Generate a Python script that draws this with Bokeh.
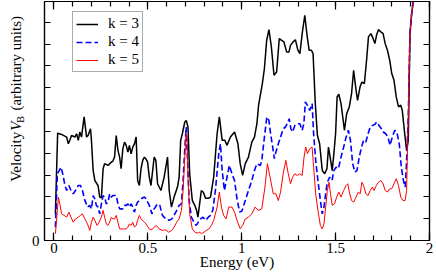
from math import pi
from bokeh.plotting import figure
from bokeh.layouts import row
from bokeh.models import Range1d, LinearAxis, FixedTicker, Legend, LegendItem
from bokeh.core.properties import value
from bokeh.embed import file_html
from bokeh.resources import INLINE

# ---------------- data ----------------
energy_k3 = [0.008, 0.020, 0.041, 0.068, 0.077, 0.085, 0.094, 0.112, 0.121, 0.130, 0.138, 0.147, 0.161, 0.174,
             0.182, 0.195, 0.200, 0.209, 0.218, 0.235, 0.244, 0.253, 0.262, 0.270, 0.288, 0.306, 0.314, 0.323,
             0.332, 0.341, 0.350, 0.358, 0.367, 0.376, 0.385, 0.394, 0.402, 0.411, 0.420, 0.429, 0.438, 0.446,
             0.455, 0.464, 0.473, 0.482, 0.490, 0.499, 0.508, 0.517, 0.534, 0.543, 0.552, 0.570, 0.587, 0.596,
             0.605, 0.614, 0.626, 0.640, 0.658, 0.667, 0.675, 0.684, 0.697, 0.705, 0.714, 0.723, 0.737, 0.750,
             0.760, 0.767, 0.776, 0.785, 0.795, 0.808, 0.822, 0.834, 0.851, 0.869, 0.881, 0.896, 0.910, 0.922,
             0.940, 0.962, 0.980, 0.992, 1.005, 1.019, 1.036, 1.054, 1.068, 1.081, 1.090, 1.110, 1.121, 1.133,
             1.145, 1.158, 1.172, 1.186, 1.200, 1.213, 1.225, 1.239, 1.252, 1.260, 1.274, 1.286, 1.299, 1.310,
             1.322, 1.336, 1.348, 1.359, 1.371, 1.380, 1.392, 1.403, 1.415, 1.429, 1.442, 1.454, 1.462, 1.471,
             1.482, 1.490, 1.500, 1.508, 1.517, 1.529, 1.547, 1.559, 1.573, 1.585, 1.596, 1.609, 1.617, 1.630,
             1.640, 1.653, 1.665, 1.675, 1.688, 1.700, 1.709, 1.718, 1.728, 1.741, 1.753, 1.764, 1.776, 1.788,
             1.799, 1.811, 1.823, 1.835, 1.847, 1.855, 1.868, 1.878, 1.887, 1.896, 1.905, 1.914, 1.925]
vel_k3 = [1.20, 4.92, 4.86, 4.74, 4.43, 4.59, 4.81, 4.74, 4.89, 4.59, 4.97, 4.74, 5.66, 4.74,
          4.81, 5.12, 4.59, 3.21, 2.75, 2.52, 1.99, 1.96, 3.29, 3.52, 3.44, 3.59, 3.64, 3.82,
          4.81, 4.13, 3.82, 3.29, 4.20, 4.51, 4.36, 4.05, 4.36, 3.97, 4.28, 4.43, 4.74, 2.75,
          2.52, 3.29, 3.67, 3.82, 3.74, 3.59, 2.90, 2.52, 3.82, 3.67, 2.60, 2.29, 2.90, 3.36,
          3.82, 2.29, 1.53, 1.99, 2.45, 2.90, 4.59, 4.89, 5.43, 5.50, 5.20, 3.06, 1.84, 1.61,
          1.38, 1.07, 1.68, 2.29, 2.22, 1.93, 1.93, 1.99, 2.91, 4.89, 5.66, 4.59, 4.59, 4.36,
          4.74, 4.97, 4.43, 3.52, 2.98, 3.52, 3.82, 4.51, 4.74, 5.35, 6.20, 7.19, 7.88, 9.17,
          9.66, 8.87, 7.57, 7.72, 9.25, 9.17, 9.10, 8.64, 8.64, 8.94, 9.10, 9.20, 8.72, 8.56,
          9.48, 10.32, 9.40, 8.72, 8.72, 8.56, 6.27, 4.82, 4.43, 3.21, 3.06, 3.29, 4.28, 3.82,
          3.20, 3.90, 4.89, 6.58, 6.70, 6.27, 5.05, 5.81, 6.12, 6.73, 7.80, 6.88, 6.42, 7.03,
          7.26, 7.19, 8.26, 9.33, 9.48, 9.25, 9.02, 9.40, 9.66, 9.56, 9.48, 9.02, 8.72, 8.26,
          7.65, 7.34, 6.58, 6.12, 6.20, 5.96, 4.89, 4.13, 4.59, 9.48, 10.40, 11.00, 12.50]

energy_k4 = [0.008, 0.0185, 0.029, 0.038, 0.047, 0.059, 0.068, 0.080, 0.091, 0.103, 0.115, 0.130, 0.142, 0.152,
             0.165, 0.179, 0.191, 0.200, 0.209, 0.218, 0.226, 0.235, 0.244, 0.253, 0.262, 0.270, 0.279, 0.288,
             0.297, 0.306, 0.314, 0.323, 0.332, 0.341, 0.350, 0.358, 0.367, 0.376, 0.385, 0.394, 0.402, 0.411,
             0.420, 0.429, 0.438, 0.446, 0.464, 0.482, 0.490, 0.508, 0.522, 0.534, 0.552, 0.564, 0.578, 0.596,
             0.614, 0.628, 0.640, 0.654, 0.667, 0.679, 0.688, 0.697, 0.704, 0.711, 0.720, 0.732, 0.746, 0.758,
             0.769, 0.781, 0.794, 0.808, 0.822, 0.834, 0.846, 0.860, 0.878, 0.887, 0.896, 0.908, 0.922, 0.934,
             0.948, 0.962, 0.975, 0.989, 1.001, 1.019, 1.036, 1.054, 1.068, 1.081, 1.099, 1.107, 1.121, 1.134,
             1.145, 1.154, 1.165, 1.174, 1.182, 1.195, 1.207, 1.221, 1.233, 1.242, 1.253, 1.262, 1.271, 1.283,
             1.295, 1.310, 1.322, 1.331, 1.339, 1.350, 1.362, 1.375, 1.383, 1.394, 1.406, 1.419, 1.429, 1.438,
             1.447, 1.456, 1.468, 1.481, 1.491, 1.503, 1.515, 1.529, 1.543, 1.556, 1.568, 1.579, 1.591, 1.603,
             1.614, 1.626, 1.638, 1.649, 1.661, 1.673, 1.684, 1.696, 1.709, 1.719, 1.731, 1.744, 1.754, 1.767,
             1.779, 1.790, 1.802, 1.815, 1.826, 1.839, 1.850, 1.861, 1.871, 1.878, 1.887, 1.896, 1.905, 1.914,
             1.925]
vel_k4 = [0.61, 3.06, 3.21, 3.36, 3.06, 2.52, 2.29, 2.52, 2.29, 2.14, 2.29, 2.52, 2.52, 2.29,
          1.84, 1.53, 1.61, 1.45, 2.06, 1.91, 1.61, 1.53, 1.22, 1.68, 2.06, 1.99, 1.68, 1.76,
          2.14, 1.99, 2.06, 2.06, 2.06, 1.68, 1.45, 1.45, 1.45, 1.61, 1.61, 1.68, 1.53, 1.68,
          1.53, 1.30, 1.61, 1.76, 1.91, 1.99, 1.91, 1.61, 1.22, 1.45, 1.68, 1.61, 1.15, 0.99,
          0.92, 0.99, 1.15, 1.38, 1.61, 1.68, 2.75, 4.20, 5.20, 3.82, 1.84, 1.07, 0.84, 0.69,
          0.84, 0.99, 1.07, 0.92, 1.07, 1.15, 1.38, 2.29, 3.98, 4.43, 3.21, 2.29, 2.91, 3.44,
          3.06, 2.75, 1.91, 1.30, 1.35, 1.83, 2.29, 2.75, 3.21, 3.52, 3.44, 3.67, 4.74, 5.66,
          5.50, 4.89, 4.28, 3.75, 4.05, 4.43, 4.74, 5.12, 5.20, 5.35, 5.58, 5.12, 4.97, 5.27,
          5.35, 5.35, 5.05, 5.35, 6.35, 6.19, 5.96, 6.27, 4.89, 3.67, 2.75, 1.83, 1.22, 1.53,
          2.14, 2.67, 2.90, 2.75, 3.21, 3.36, 3.29, 3.82, 4.28, 4.74, 5.05, 4.59, 3.52, 3.13,
          3.21, 3.82, 4.28, 4.59, 4.51, 4.89, 5.20, 5.27, 5.32, 5.43, 5.27, 5.12, 4.97, 4.89,
          4.74, 4.36, 4.74, 5.05, 4.97, 4.43, 3.36, 2.75, 2.45, 3.67, 5.66, 9.48, 10.40, 11.00,
          12.50]

energy_k5 = [0.008, 0.0185, 0.024, 0.033, 0.041, 0.054, 0.068, 0.080, 0.091, 0.103, 0.115, 0.130, 0.142, 0.152,
             0.165, 0.179, 0.191, 0.200, 0.209, 0.218, 0.230, 0.241, 0.253, 0.262, 0.270, 0.279, 0.288, 0.297,
             0.306, 0.314, 0.323, 0.332, 0.341, 0.350, 0.367, 0.385, 0.394, 0.402, 0.411, 0.420, 0.429, 0.438,
             0.446, 0.455, 0.464, 0.482, 0.490, 0.508, 0.522, 0.534, 0.546, 0.561, 0.578, 0.596, 0.610, 0.628,
             0.640, 0.654, 0.667, 0.679, 0.688, 0.697, 0.704, 0.709, 0.714, 0.723, 0.737, 0.751, 0.764, 0.776,
             0.786, 0.799, 0.811, 0.825, 0.839, 0.851, 0.869, 0.881, 0.892, 0.904, 0.917, 0.931, 0.948, 0.962,
             0.975, 0.992, 1.005, 1.019, 1.036, 1.054, 1.071, 1.089, 1.107, 1.124, 1.137, 1.151, 1.168, 1.182,
             1.195, 1.207, 1.221, 1.235, 1.248, 1.260, 1.271, 1.283, 1.295, 1.310, 1.322, 1.332, 1.341, 1.350,
             1.362, 1.375, 1.383, 1.394, 1.406, 1.419, 1.429, 1.438, 1.447, 1.456, 1.465, 1.473, 1.482, 1.494,
             1.506, 1.517, 1.529, 1.543, 1.556, 1.565, 1.573, 1.585, 1.596, 1.609, 1.621, 1.631, 1.640, 1.649,
             1.661, 1.673, 1.684, 1.696, 1.705, 1.717, 1.728, 1.741, 1.753, 1.764, 1.776, 1.788, 1.799, 1.811,
             1.823, 1.835, 1.847, 1.859, 1.870, 1.878, 1.887, 1.896, 1.905, 1.914, 1.925]
vel_k5 = [0.31, 1.38, 1.99, 1.61, 1.22, 1.15, 1.07, 1.30, 1.07, 0.84, 0.99, 1.07, 1.15, 1.22,
          0.99, 0.76, 0.46, 0.84, 1.07, 0.92, 0.69, 0.84, 1.07, 1.38, 1.07, 0.76, 0.69, 0.84,
          1.07, 0.99, 0.99, 1.15, 0.84, 0.53, 0.53, 0.53, 0.61, 0.76, 0.69, 0.84, 0.61, 0.69,
          0.92, 1.15, 0.99, 0.84, 0.76, 0.53, 0.49, 0.61, 0.69, 0.53, 0.46, 0.49, 0.38, 0.46,
          0.61, 0.84, 0.99, 1.38, 2.29, 3.82, 4.89, 4.74, 2.90, 1.22, 0.53, 0.38, 0.34, 0.38,
          0.31, 0.38, 0.46, 0.53, 0.69, 0.92, 1.53, 2.22, 1.53, 1.15, 0.99, 1.53, 1.53, 1.30,
          0.92, 0.54, 0.69, 0.99, 1.07, 1.22, 1.53, 1.38, 1.45, 2.45, 3.52, 2.91, 2.14, 2.14,
          1.83, 2.22, 3.06, 3.67, 3.06, 2.60, 2.90, 3.06, 2.98, 3.06, 2.98, 3.82, 4.28, 3.98,
          4.20, 4.28, 3.36, 2.14, 1.38, 0.69, 0.53, 0.76, 1.53, 2.29, 2.67, 2.14, 1.61, 1.68,
          1.99, 2.22, 1.99, 2.29, 2.52, 2.60, 2.22, 1.83, 1.76, 1.99, 2.22, 2.14, 2.67, 2.52,
          2.14, 2.06, 2.29, 2.45, 2.29, 2.52, 2.67, 2.75, 2.60, 2.29, 2.22, 2.37, 2.37, 2.60,
          2.83, 2.52, 1.99, 1.83, 1.83, 2.29, 5.66, 9.48, 10.40, 11.00, 12.50]

series_labels = ["k = 3", "k = 4", "k = 5"]
x_tick_values = [0, 0.5, 1, 1.5, 2]
x_tick_labels = ["0", "0.5", "1", "1.5", "2"]
x_minor_values = [round(0.1 * i, 1) for i in range(21)]
y_tick_values = list(range(0, 11))
y_tick_labels = ["0"] + [""] * 10
x_axis_title = "Energy (eV)"
y_title_parts = ["Velocity", "V", "B", "(arbitrary units)"]

# ---------------- styling ----------------
FONT = "Liberation Serif"
FS = "15px"
TOTAL_W, TOTAL_H = 436, 277
STRIP_W = 28

# main plot
p = figure(width=TOTAL_W - STRIP_W, height=TOTAL_H, output_backend="svg", toolbar_location=None,
           x_range=Range1d(-0.05, 2.0), y_range=Range1d(0, 10.95),
           x_axis_type=None, y_axis_type=None,
           min_border_left=13, min_border_right=7, min_border_top=1, min_border_bottom=37)
p.grid.visible = False
p.outline_line_color = "black"
p.outline_line_width = 1.2
p.background_fill_color = "white"
p.border_fill_color = "white"


def style_axis(ax, tick_in, minor_in, labels_on, overrides):
    ax.major_tick_in = tick_in
    ax.major_tick_out = 0
    ax.minor_tick_in = minor_in
    ax.minor_tick_out = 0
    ax.axis_line_color = "black"
    ax.axis_line_width = 1.2
    ax.major_tick_line_color = "black"
    ax.minor_tick_line_color = "black"
    ax.major_tick_line_width = 1.2
    ax.minor_tick_line_width = 1.2
    ax.major_label_overrides = overrides
    ax.major_label_text_font = FONT
    ax.major_label_text_font_style = "normal"
    ax.major_label_text_color = "black"
    if labels_on:
        ax.major_label_text_font_size = FS
        ax.major_label_standoff = 2
    else:
        ax.major_label_text_font_size = "0px"
        ax.major_label_standoff = 0


x_over = dict(zip(x_tick_values, x_tick_labels))
x_over_blank = {v: "" for v in x_tick_values}
y_over = dict(zip(y_tick_values, y_tick_labels))
y_over_blank = {v: "" for v in y_tick_values}

xb = LinearAxis(ticker=FixedTicker(ticks=x_tick_values, minor_ticks=x_minor_values))
style_axis(xb, 8, 5, True, x_over)
xb.axis_label = x_axis_title
xb.axis_label_text_font = FONT
xb.axis_label_text_font_size = FS
xb.axis_label_text_font_style = "normal"
xb.axis_label_text_color = "black"
xb.axis_label_standoff = -2
p.add_layout(xb, "below")

xt = LinearAxis(ticker=FixedTicker(ticks=x_tick_values, minor_ticks=x_minor_values))
style_axis(xt, 8, 5, False, x_over_blank)
p.add_layout(xt, "above")

yl = LinearAxis(ticker=FixedTicker(ticks=y_tick_values, minor_ticks=[]))
style_axis(yl, 6, 0, True, y_over)
yl.major_label_standoff = 5
p.add_layout(yl, "left")

yr = LinearAxis(ticker=FixedTicker(ticks=y_tick_values, minor_ticks=[]))
style_axis(yr, 6, 0, False, y_over_blank)
p.add_layout(yr, "right")

r3 = p.line(energy_k3, vel_k3, line_color="black", line_width=1.5)
r4 = p.line(energy_k4, vel_k4, line_color="#0000ff", line_width=1.6, line_dash="6 3")
r5 = p.line(energy_k5, vel_k5, line_color="#ff0000", line_width=1.0)

legend = Legend(items=[LegendItem(label=series_labels[0], renderers=[r3]),
                       LegendItem(label=series_labels[1], renderers=[r4]),
                       LegendItem(label=series_labels[2], renderers=[r5])],
                location=(28, 168), margin=0, padding=3, spacing=1,
                glyph_width=22, glyph_height=16, label_height=16, label_standoff=10,
                label_text_font=FONT, label_text_font_size=FS, label_text_font_style="normal",
                label_text_color="black",
                border_line_color="#555555", border_line_width=1.5,
                background_fill_color="white", background_fill_alpha=1.0)
p.add_layout(legend, "center")

# left strip holding the rotated y-axis title (mixed styles: italic V, subscript B)
s = figure(width=STRIP_W, height=TOTAL_H, output_backend="svg", toolbar_location=None,
           x_range=Range1d(0, STRIP_W), y_range=Range1d(0, TOTAL_H),
           x_axis_type=None, y_axis_type=None,
           min_border_left=0, min_border_right=0, min_border_top=0, min_border_bottom=0)
s.grid.visible = False
s.outline_line_color = None
s.background_fill_color = "white"
s.border_fill_color = "white"

base_x = 15
common = dict(angle=pi / 2, text_font=value(FONT), text_color="black",
              text_baseline="alphabetic", text_align="left")
s.text(x=[base_x], y=[68], text=[y_title_parts[0]], text_font_size="15px", **common)
s.text(x=[base_x], y=[127.2], text=[y_title_parts[1]], text_font_size="15px",
       text_font_style="italic", **common)
s.text(x=[base_x + 5], y=[136.4], text=[y_title_parts[2]], text_font_size="10px", **common)
s.text(x=[base_x], y=[150.6], text=[y_title_parts[3]], text_font_size="15px", **common)

layout = row(s, p, spacing=0)
open("out.html", "w").write(file_html(layout, INLINE))
